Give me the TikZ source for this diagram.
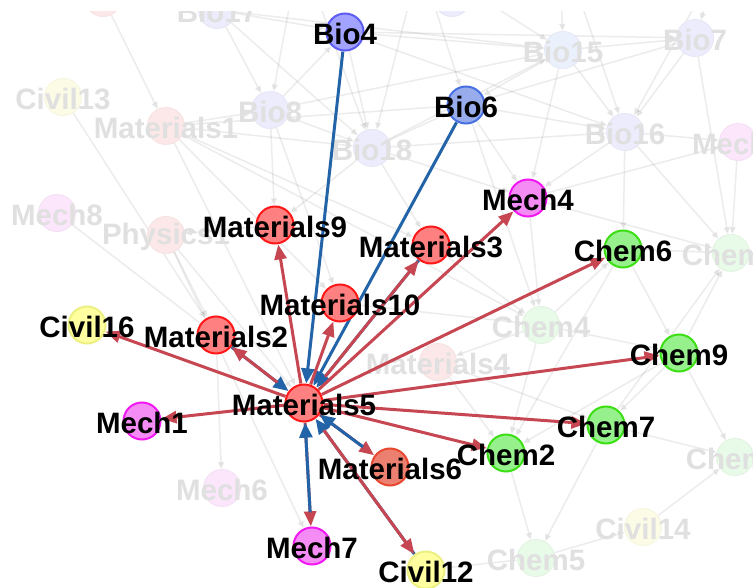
\documentclass[tikz,border=0pt]{standalone}
\usepackage{fontspec}
\setmainfont{Liberation Sans}
\usetikzlibrary{arrows.meta}
\definecolor{redE}{RGB}{198,70,82}
\definecolor{blueE}{RGB}{35,100,168}
\definecolor{matF}{RGB}{255,128,128}
\definecolor{matD}{RGB}{255,24,24}
\definecolor{mat6F}{RGB}{236,128,112}
\definecolor{mat6D}{RGB}{232,72,48}
\definecolor{bio4F}{RGB}{162,162,255}
\definecolor{bio4D}{RGB}{92,92,242}
\definecolor{bio6F}{RGB}{152,172,236}
\definecolor{bio6D}{RGB}{72,112,226}
\definecolor{mechF}{RGB}{245,140,245}
\definecolor{mechD}{RGB}{242,24,242}
\definecolor{chemF}{RGB}{150,240,140}
\definecolor{chemD}{RGB}{60,222,20}
\definecolor{civF}{RGB}{255,255,160}
\definecolor{civD}{RGB}{236,240,130}
\definecolor{bgBioF}{RGB}{236,236,252}
\definecolor{bgBio2F}{RGB}{234,240,252}
\definecolor{bgMatF}{RGB}{252,232,232}
\definecolor{bgMechF}{RGB}{251,230,251}
\definecolor{bgChemF}{RGB}{232,250,232}
\definecolor{bgCivF}{RGB}{252,252,230}
\definecolor{bgText}{RGB}{224,224,224}
\begin{document}
\begin{tikzpicture}[x=1pt,y=-1pt,
  fgnode/.style={circle, minimum size=37pt, inner sep=0pt, line width=2pt},
  anchornode/.style={circle, minimum size=39pt, inner sep=0pt},
  bgnode/.style={circle, minimum size=37pt, inner sep=0pt, line width=1pt},
  fglabel/.style={font=\fontsize{29.5}{29.5}\selectfont\bfseries, inner sep=0pt, text=black},
  bglabel/.style={font=\fontsize{29.5}{29.5}\selectfont\bfseries, inner sep=0pt, text=bgText},
  redarrow/.style={draw=redE, line width=3pt, -{Triangle[length=15pt,width=12pt]}},
  bluearrow/.style={draw=blueE, line width=3pt, -{Triangle[length=15pt,width=13pt]}},
  grayedge/.style={draw=gray, draw opacity=0.15, fill opacity=0.12, line width=1.5pt, -{Triangle[length=7pt,width=6pt]}}
]
\useasboundingbox (0,0) rectangle (753,588);
\fill[white] (0,0) rectangle (753,588);
\def\fglist{m5/304/403/Materials5/matF/matD, bio4/345/32/Bio4/bio4F/bio4D,
  bio6/466/105/Bio6/bio6F/bio6D, mech4/528/198/Mech4/mechF/mechD,
  mat3/431/245/Materials3/matF/matD, mat9/275/225/Materials9/matF/matD,
  mat10/340/303/Materials10/matF/matD, mat2/216/335/Materials2/matF/matD,
  civ16/87/325/Civil16/civF/civD, mech1/142/421/Mech1/mechF/mechD,
  mech7/312/546/Mech7/mechF/mechD, mat6/390/467/Materials6/mat6F/mat6D,
  chem2/506/453/Chem2/chemF/chemD, chem7/606/425/Chem7/chemF/chemD,
  chem9/679/353/Chem9/chemF/chemD, chem6/623/249/Chem6/chemF/chemD,
  civ12/426/570/Civil12/civF/civD}
\def\bglist{bgA/103/-2//bgMatF, bgB/452/-2//bgBioF, bio17/217/10/Bio17/bgBioF,
  civ13/63/97/Civil13/bgCivF, mat1/166/126/Materials1/bgMatF, bio8/270/110/Bio8/bgBioF,
  bio18/372/148/Bio18/bgBioF, bio15/563/50/Bio15/bgBio2F, bio7/695/38/Bio7/bgBioF,
  bio16/625/132/Bio16/bgBioF, mechR/738/142/Mech3/bgMechF, mech8/57/213/Mech8/bgMechF,
  phys1/166/235/Physics1/bgMatF, chem4/541/325/Chem4/bgChemF, mat4/438/362/Materials4/bgMatF,
  chemR1/731/253/Chem1/bgChemF, chemR2/735/457/Chem3/bgChemF, mech6/222/488/Mech6/bgMechF,
  civ14/643/527/Civil14/bgCivF, chem5/536/558/Chem5/bgChemF}
% invisible anchor nodes for foreground
\foreach \n/\x/\y/\t/\f/\d in \fglist {\node[anchornode] (\n) at (\x,\y) {};}
% background
\begin{scope}
\clip (0,12) rectangle (753,588);
\foreach \n/\x/\y/\t/\f in \bglist {\node[bgnode] (\n) at (\x,\y) {};}
\coordinate (bgC) at (560,-60);
\coordinate (bgD) at (300,-50);
\coordinate (bgE) at (720,-40);
\coordinate (bgF) at (420,-40);
\foreach \a/\b in {bgA/mat1, bio17/bio8, bio17/bio18, bio17/bio4, bio17/bio15,
  bgD/bio8, bgD/bio18, bgF/bio18, bgF/bio15, bgF/bio6, civ13/mat2,
  mat1/bio8, mat1/bio18, mat1/bio6, mat1/mat10, mat1/m5, mat1/mat3, mat1/chem4,
  bio8/bio18, bio8/bio15, bio8/bio4, bio8/mat10, bio8/mat9,
  bio4/bio15, bio4/bio18, bio4/bio7, bio4/bio16,
  bio18/bio6, bio18/mat9, bio18/mat3, bio18/mech4, bio18/bio16, bio18/bio15,
  bio15/bio16, bio15/bio7, bio15/mech4, bio15/bio6, bgC/bio15, bgC/bio16,
  bgE/bio7, bgE/bio16, bio7/bio16, bio7/bio6, bio7/chemR1,
  bio16/chemR1, bio16/mech4, bio16/chem6, bio16/mechR,
  bio6/mech4, bio6/bio16, bio6/chem4, mech4/mechR, mech4/chemR1, mech4/chem4,
  mech8/m5, phys1/mat2, phys1/mech7, phys1/m5, mat9/phys1, mat2/mech6,
  mat10/chem4, mat3/chem4, chem4/chem6, chem4/chem9, chem4/chem2, chem4/mat4,
  mat4/chem2, mat4/chem7, chem6/chemR1, chem6/chem9, chem6/chem2,
  chem9/chemR1, chem9/chemR2, chem9/chem2, chem9/chem7,
  chem7/chemR1, chem7/chemR2, chem7/chem5, chem2/chem5,
  civ12/chem5, chem5/civ14, civ14/chemR2, mechR/chemR1}
  {\draw[grayedge] (\a) -- (\b);}
\foreach \n/\x/\y/\t/\f in \bglist {\node[bgnode, fill=\f, draw=\f!95!gray] at (\x,\y) {};}
\foreach \n/\x/\y/\t/\f in \bglist {\node[bglabel] at (\x,\y+2) {\t};}
\end{scope}
% foreground edges
\foreach \s in {mat2, mat3, civ12} {\draw[bluearrow] (\s) -- (m5);}
\draw[bluearrow] (bio4) -- (m5);
\draw[bluearrow] (bio6) -- (m5);
\foreach \t in {civ16, mat9, mat10, mech4, chem6, chem9, chem7, chem2, mech1, mech7, mat6}
  {\draw[redarrow] (m5) -- (\t);}
\foreach \t in {mat2, mat3, civ12} {\draw[redarrow, shorten <=14pt] (m5) -- (\t);}
\draw[bluearrow, shorten <=14pt] (mech7) -- (m5);
\draw[bluearrow, shorten <=14pt] (mat6) -- (m5);
% foreground nodes and labels
\foreach \n/\x/\y/\t/\f/\d in \fglist {\node[fgnode, fill=\f, draw=\d] at (\x,\y) {};}
\foreach \n/\x/\y/\t/\f/\d in \fglist {\node[fglabel] at (\x,\y+2) {\t};}
\end{tikzpicture}
\end{document}
